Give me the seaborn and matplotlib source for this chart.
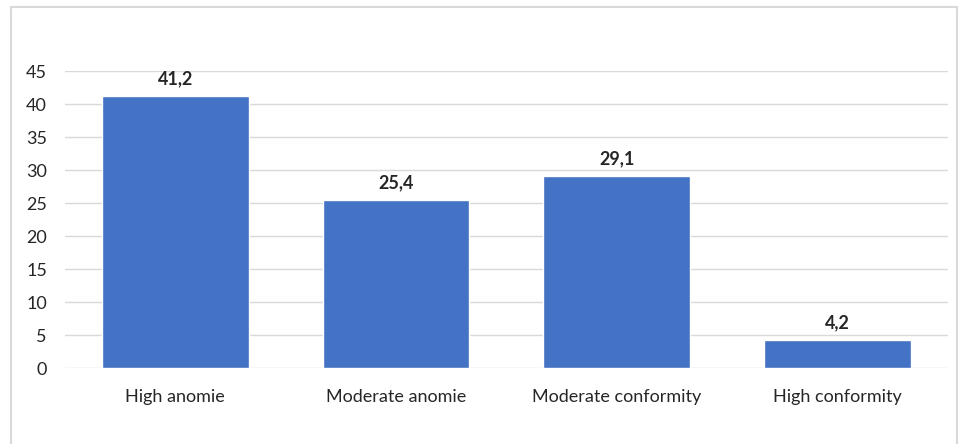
import matplotlib
matplotlib.use("Agg")
import matplotlib.pyplot as plt
import seaborn as sns
import pandas as pd
from matplotlib.patches import Rectangle

# data
categories = ["High anomie", "Moderate anomie", "Moderate conformity", "High conformity"]
values = [41.2, 25.4, 29.1, 4.2]
yticks = [0, 5, 10, 15, 20, 25, 30, 35, 40, 45]

df = pd.DataFrame({"cat": categories, "val": values})

sns.set_theme(style="white")
plt.rcParams["font.family"] = ["Lato", "DejaVu Sans"]

fig = plt.figure(figsize=(9.7, 4.44), dpi=100)
ax = fig.add_axes([0.067, 0.171, 0.910, 0.669])

sns.barplot(data=df, x="cat", y="val", color="#4472C4", saturation=1,
            width=0.666, ax=ax, zorder=3)

ax.set_ylim(0, 45)
ax.set_yticks(yticks)
ax.yaxis.grid(True, color="#d9d9d9", linewidth=1, zorder=0)
ax.set_axisbelow(True)
for s in ax.spines.values():
    s.set_visible(False)
ax.tick_params(axis="both", length=0, labelsize=13, colors="#262626")
ax.tick_params(axis="y", pad=13)
ax.tick_params(axis="x", pad=15)
ax.set_xlabel("")
ax.set_ylabel("")
ax.set_xlim(-0.5, 3.5)

# value labels
for i, v in enumerate(values):
    ax.text(i, v + 1.4, f"{v:.1f}".replace(".", ","), ha="center", va="bottom",
            fontsize=13, fontweight="bold", color="#262626")

# frame around chart area
fig.patches.append(Rectangle((11 / 970, -0.05), (957 - 11) / 970, 1 - 7 / 444 + 0.05,
                             transform=fig.transFigure, fill=False,
                             edgecolor="#d9d9d9", linewidth=1.5))

fig.savefig("out.png", dpi=100)
